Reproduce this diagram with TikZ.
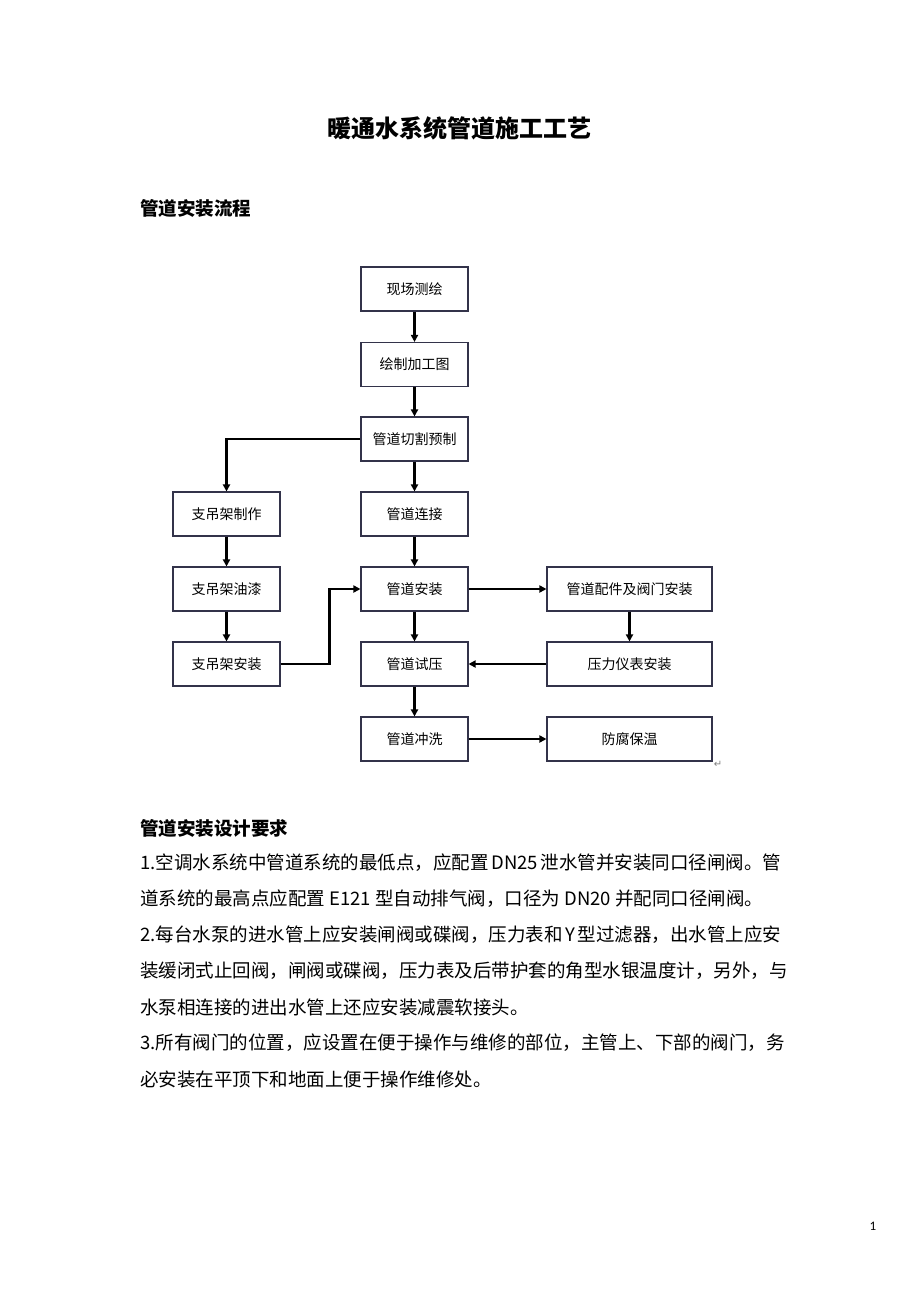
\documentclass[tikz,border=0pt]{standalone}
\usepackage{fontspec}
\newfontfamily\cjk{Noto Sans CJK SC}
\newfontfamily\symf{DejaVu Sans}
\newfontfamily\pagef{Carlito}
\usetikzlibrary{arrows.meta}
\XeTeXlinebreaklocale "zh"
\XeTeXlinebreakskip=0pt plus 3pt
\definecolor{boxc}{HTML}{33334A}
\tikzset{
  box/.style={draw=boxc, line width=1.1pt, minimum height=44pt, inner sep=0pt,
    font=\cjk\fontsize{14}{15}\selectfont, fill=white},
  narrow/.style={box, minimum width=107pt},
  wide/.style={box, minimum width=165pt},
  flow/.style={line width=2.4pt, -{Triangle[length=7pt,width=7pt]}},
  body/.style={anchor=west, inner sep=0pt, font=\cjk\fontsize{18.5}{20}\selectfont},
  head/.style={anchor=west, inner sep=0pt, font=\cjk\bfseries\fontsize{18.5}{20}\selectfont}
}
\newcommand{\jline}[1]{\makebox[640pt][s]{#1}}
\begin{document}
\begin{tikzpicture}[x=1pt,y=-1pt]
\useasboundingbox[fill=white] (0,0) rectangle (920,1302);

\node[inner sep=0pt, font=\cjk\bfseries\fontsize{24}{26}\selectfont] (title) at (459,128) {暖通水系统管道施工工艺};
\node[head] (h1) at (140,208) {管道安装流程};

% flowchart
\node[narrow] (a1) at (414.5,289) {现场测绘};
\node[narrow] (a2) at (414.5,364.5) {绘制加工图};
\node[narrow] (a3) at (414.5,439) {管道切割预制};
\node[narrow] (a4) at (414.5,514) {管道连接};
\node[narrow] (a5) at (414.5,589) {管道安装};
\node[narrow] (a6) at (414.5,664) {管道试压};
\node[narrow] (a7) at (414.5,739) {管道冲洗};
\node[narrow] (b1) at (226.5,514) {支吊架制作};
\node[narrow] (b2) at (226.5,589) {支吊架油漆};
\node[narrow] (b3) at (226.5,664) {支吊架安装};
\node[wide] (c1) at (629.5,589) {管道配件及阀门安装};
\node[wide] (c2) at (629.5,664) {压力仪表安装};
\node[wide] (c3) at (629.5,739) {防腐保温};
\node[inner sep=0pt, anchor=south west, text=gray, font=\symf\fontsize{10}{10}\selectfont] (pm) at ([xshift=1pt,yshift=-6pt]c3.south east) {↵};

\draw[flow] (a1) -- (a2);
\draw[flow] (a2) -- (a3);
\draw[flow] (a3) -- (a4);
\draw[flow] (a3.west) -| (b1.north);
\draw[flow] (b1) -- (b2);
\draw[flow] (b2) -- (b3);
\draw[flow] (b3.east) -- ++(49,0) |- (a5.west);
\draw[flow] (a4) -- (a5);
\draw[flow] (a5) -- (a6);
\draw[flow] (a5) -- (c1);
\draw[flow] (c1) -- (c2);
\draw[flow] (c2) -- (a6);
\draw[flow] (a6) -- (a7);
\draw[flow] (a7) -- (c3);

% text
\node[head] (h2) at (140,828) {管道安装设计要求};
\node[body] (l1) at (140,863) {\jline{1.空调水系统中管道系统的最低点，应配置 DN25 泄水管并安装同口径闸阀。管}};
\node[body] (l2) at (140,899) {道系统的最高点应配置 E121 型自动排气阀，口径为 DN20 并配同口径闸阀。};
\node[body] (l3) at (140,935) {\jline{2.每台水泵的进水管上应安装闸阀或碟阀，压力表和 Y 型过滤器，出水管上应安}};
\node[body] (l4) at (140,971) {\jline{装缓闭式止回阀，闸阀或碟阀，压力表及后带护套的角型水银温度计，另外，与}};
\node[body] (l5) at (140,1007) {水泵相连接的进出水管上还应安装减震软接头。};
\node[body] (l6) at (140,1043) {\jline{3.所有阀门的位置，应设置在便于操作与维修的部位，主管上、下部的阀门，务}};
\node[body] (l7) at (140,1079) {必安装在平顶下和地面上便于操作维修处。};

\node[inner sep=0pt, font=\pagef\fontsize{13}{13}\selectfont] (pg) at (873,1226) {1};
\end{tikzpicture}
\end{document}
